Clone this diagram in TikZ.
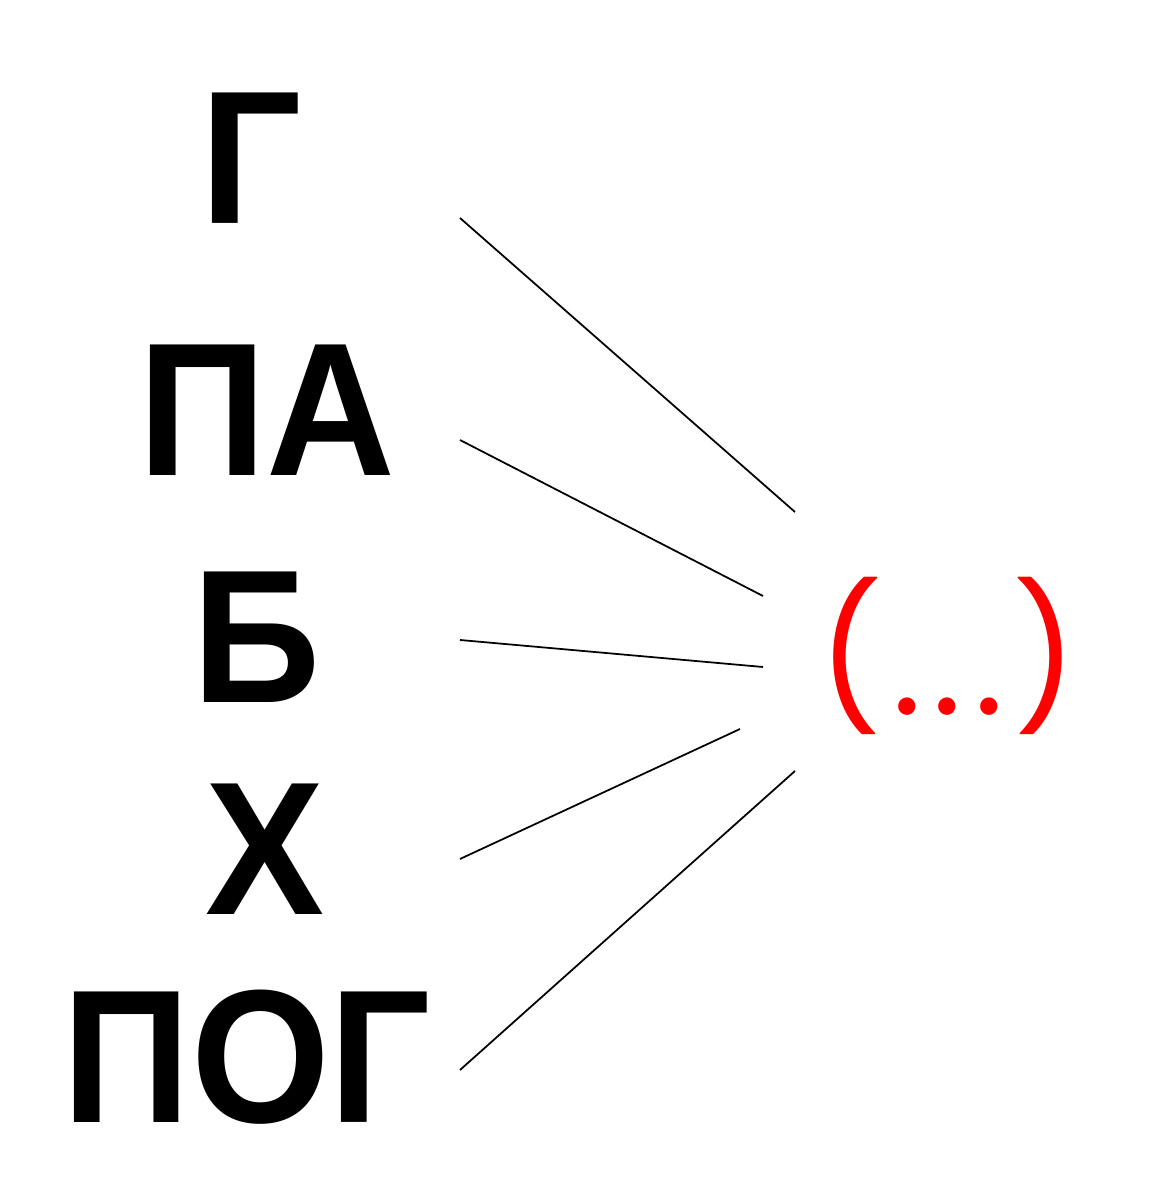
\documentclass[tikz,border=0pt]{standalone}
\usepackage{fontspec}
\setmainfont{Liberation Sans}
\newfontfamily\roundfont{Poppins}
\usetikzlibrary{
		calc,
		positioning
	}
\tikzset{
		>=stealth,
		word/.style={anchor=base, xscale=0.94, transform shape, font=\fontsize{54}{60}\bfseries\selectfont},
		link/.style={line width=0.5pt}
	}
\newcommand{\lowdot}{\raisebox{-0.06cm}{.}}

\begin{document}
\begin{tikzpicture}
    % the frame of the picture
    \useasboundingbox (0,0) rectangle (11.73,12);

    % the words on the left
    \node[word] (w1) at (2.51,9.76) {Г};
    \node[word] (w2) at (2.67,7.24) {ПА};
    \node[word] (w3) at (2.57,4.97) {Б};
    \node[word] (w4) at (2.65,2.85) {Х};
    \node[word] (w5) at (2.47,0.78) {ПОГ};

    % the red brackets on the right
    \node[anchor=base, text=red, font=\fontsize{40}{48}\roundfont\selectfont] (br) at (9.48,4.91)
        {(\kern0.1cm\lowdot\kern0.11cm\lowdot\kern0.12cm\lowdot\kern0.1cm)};

    % the ends of the lines (here just coordinates, the lines stop short
    % of the words and of the brackets)
    \coordinate (s1) at (4.60,9.82);
    \coordinate (s2) at (4.60,7.60);
    \coordinate (s3) at (4.60,5.60);
    \coordinate (s4) at (4.60,3.41);
    \coordinate (s5) at (4.60,1.30);
    \coordinate (e1) at (7.95,6.88);
    \coordinate (e2) at (7.63,6.04);
    \coordinate (e3) at (7.63,5.33);
    \coordinate (e4) at (7.40,4.71);
    \coordinate (e5) at (7.95,4.29);

    % draw the lines
    \draw[link] (s1) -- (e1);

    \draw[link] (s2) -- (e2);

    \draw[link] (s3) -- (e3);

    \draw[link] (s4) -- (e4);

    \draw[link] (s5) -- (e5);

\end{tikzpicture}
\end{document}
